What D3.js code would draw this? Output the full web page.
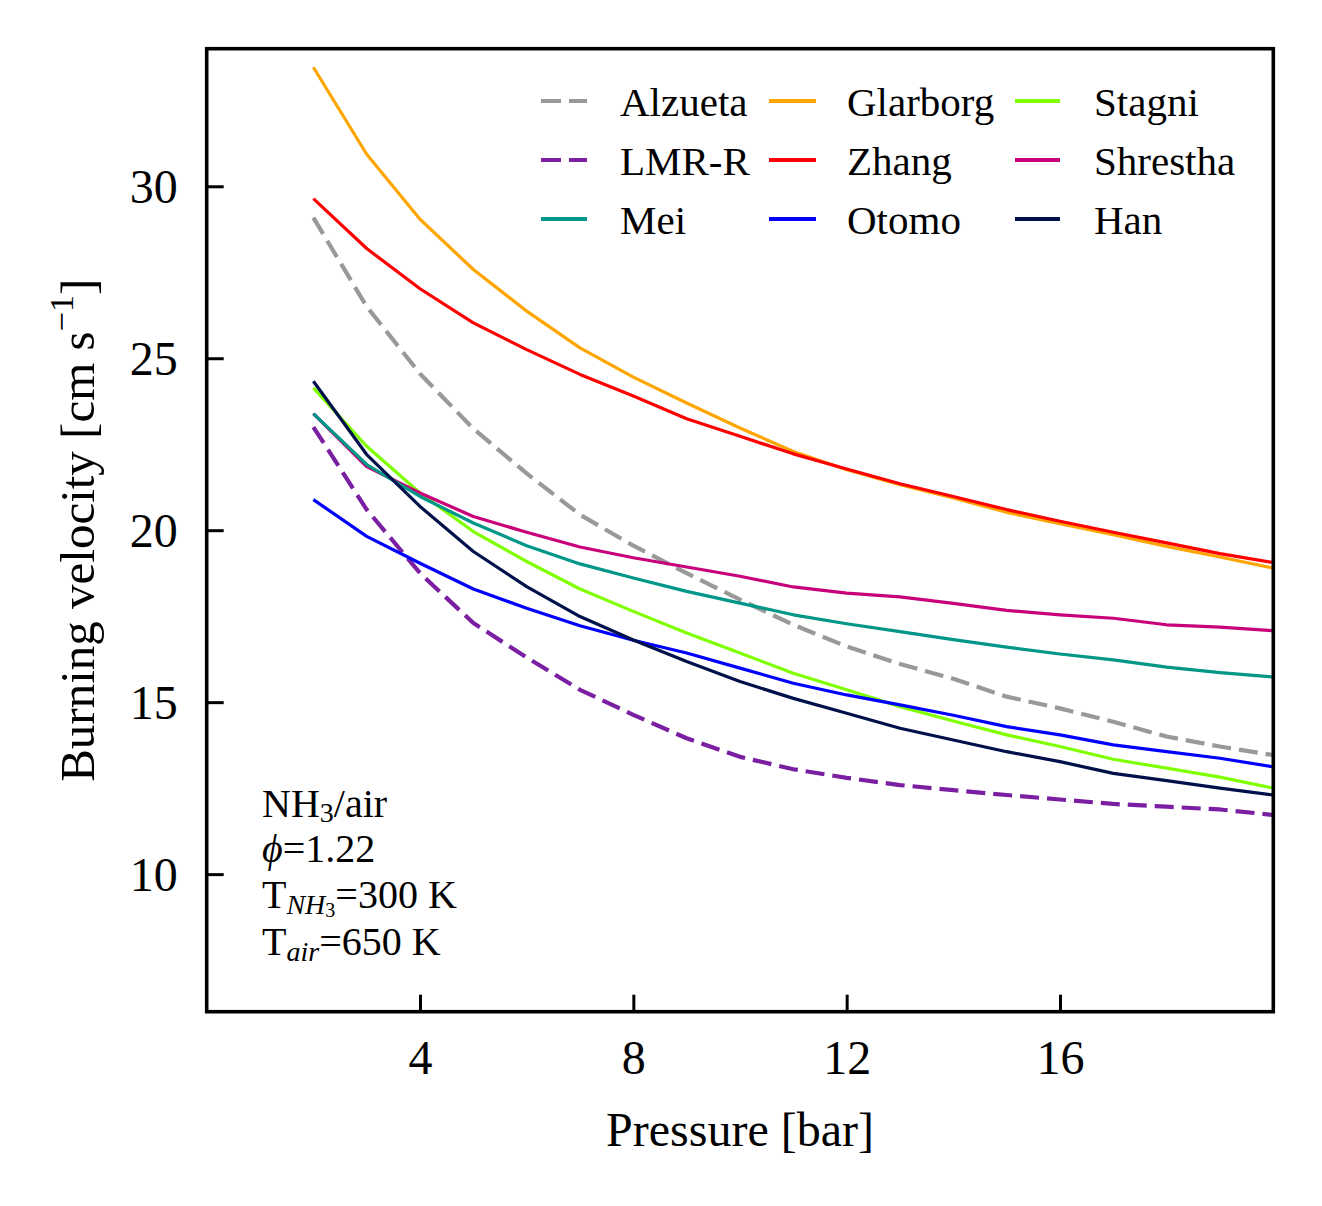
<!DOCTYPE html>
<html>
<head>
<meta charset="utf-8">
<script src="https://cdn.jsdelivr.net/npm/d3@7"></script>
<style>
  html, body { margin: 0; padding: 0; background: #fff; }
  svg { display: block; }
  text { font-family: "Liberation Serif", "Times New Roman", serif; fill: #000; }
</style>
</head>
<body>
<svg id="chart" width="1322" height="1206"></svg>
<script>
// ---------------- data ----------------
const pressure = [2,3,4,5,6,7,8,9,10,11,12,13,14,15,16,17,18,19,20];
const alzueta  = [29.09,26.50,24.55,22.95,21.65,20.45,19.55,18.75,17.98,17.25,16.62,16.11,15.68,15.16,14.82,14.43,14.00,13.71,13.46];
const lmrr     = [23.00,20.60,18.75,17.30,16.30,15.36,14.63,13.95,13.41,13.05,12.80,12.59,12.44,12.30,12.17,12.04,11.96,11.88,11.72];
const mei      = [23.39,21.91,20.98,20.21,19.55,19.02,18.61,18.22,17.88,17.54,17.28,17.05,16.82,16.60,16.40,16.23,16.02,15.86,15.73];
const glarborg = [33.46,30.93,29.04,27.58,26.37,25.30,24.45,23.70,22.97,22.29,21.76,21.32,20.94,20.52,20.19,19.87,19.53,19.22,18.90];
const zhang    = [29.64,28.19,27.02,26.03,25.25,24.53,23.90,23.24,22.73,22.22,21.78,21.35,20.98,20.60,20.26,19.94,19.63,19.32,19.06];
const otomo    = [20.89,19.82,19.04,18.29,17.73,17.22,16.80,16.43,15.99,15.55,15.21,14.92,14.62,14.29,14.05,13.76,13.56,13.37,13.12];
const stagni   = [24.14,22.44,21.08,19.96,19.09,18.29,17.64,17.01,16.43,15.84,15.36,14.87,14.45,14.05,13.71,13.34,13.08,12.82,12.50];
const shrestha = [23.39,21.85,21.08,20.40,19.94,19.51,19.20,18.93,18.66,18.35,18.17,18.06,17.87,17.67,17.54,17.44,17.25,17.18,17.08];
const han      = [24.33,22.20,20.69,19.38,18.36,17.49,16.81,16.18,15.60,15.11,14.68,14.24,13.90,13.56,13.27,12.93,12.72,12.50,12.30];

const legendNames = ["Alzueta","LMR-R","Mei","Glarborg","Zhang","Otomo","Stagni","Shrestha","Han"];
const seriesValues = {
  "Alzueta": alzueta, "LMR-R": lmrr, "Mei": mei, "Glarborg": glarborg, "Zhang": zhang,
  "Otomo": otomo, "Stagni": stagni, "Shrestha": shrestha, "Han": han
};
const xTicks = [4, 8, 12, 16];
const yTicks = [10, 15, 20, 25, 30];
const xLabel = "Pressure [bar]";

// ---------------- styles ----------------
const styles = {
  "Alzueta":  {color: "#999999", dash: "19,8", width: 4.2},
  "LMR-R":    {color: "#7b1fa2", dash: "19,8", width: 4.2},
  "Mei":      {color: "#009688", dash: null, width: 3.2},
  "Glarborg": {color: "#ffa500", dash: null, width: 3.2},
  "Zhang":    {color: "#ff0000", dash: null, width: 3.2},
  "Otomo":    {color: "#0000ff", dash: null, width: 3.2},
  "Stagni":   {color: "#80ff00", dash: null, width: 3.2},
  "Shrestha": {color: "#c8007a", dash: null, width: 3.2},
  "Han":      {color: "#00104a", dash: null, width: 3.2}
};
const drawOrder = ["Alzueta","LMR-R","Glarborg","Zhang","Stagni","Shrestha","Mei","Otomo","Han"];

// ---------------- layout ----------------
const L = 206.7, R = 1273.3, T = 48.7, B = 1011.7;
const svg = d3.select("#chart");
const x = d3.scaleLinear().domain([0, 20]).range([L, R]);
const y = d3.scaleLinear().domain([6, 34]).range([B, T]);

svg.append("defs").append("clipPath").attr("id", "clip")
  .append("rect").attr("x", L).attr("y", T).attr("width", R - L).attr("height", B - T);

const line = d3.line().x((d, i) => x(pressure[i])).y(d => y(d));

const plot = svg.append("g").attr("clip-path", "url(#clip)");
drawOrder.forEach(name => {
  const s = styles[name];
  plot.append("path")
    .datum(seriesValues[name])
    .attr("d", line)
    .attr("fill", "none")
    .attr("stroke", s.color)
    .attr("stroke-width", s.width)
    .attr("stroke-dasharray", s.dash)
    .attr("stroke-linejoin", "round");
});

// axes with inward ticks
const fs = 48;
const xAxis = d3.axisBottom(x).tickValues(xTicks).tickSizeInner(-17).tickSizeOuter(0).tickPadding(45).tickFormat(d3.format("d"));
const gx = svg.append("g").attr("transform", `translate(0,${B})`).call(xAxis);
gx.select(".domain").remove();
gx.selectAll(".tick line").attr("stroke", "#000").attr("stroke-width", 3);
gx.selectAll(".tick text").attr("font-size", fs).attr("font-family", "Liberation Serif, serif").attr("dy", "0.71em").attr("y", 28);

const yAxis = d3.axisLeft(y).tickValues(yTicks).tickSizeInner(-17).tickSizeOuter(0).tickPadding(0).tickFormat(d3.format("d"));
const gy = svg.append("g").attr("transform", `translate(${L},0)`).call(yAxis);
gy.select(".domain").remove();
gy.selectAll(".tick line").attr("stroke", "#000").attr("stroke-width", 3);
gy.selectAll(".tick text").attr("font-size", fs).attr("font-family", "Liberation Serif, serif").attr("x", -29).attr("dy", "0.34em");

// frame
svg.append("rect").attr("x", L).attr("y", T).attr("width", R - L).attr("height", B - T)
  .attr("fill", "none").attr("stroke", "#000").attr("stroke-width", 3.6);

// axis labels
svg.append("text").attr("x", (L + R) / 2).attr("y", 1146).attr("text-anchor", "middle")
  .attr("font-size", fs).text(xLabel);

const yl = svg.append("text").attr("transform", `translate(94,${(T + B) / 2}) rotate(-90)`)
  .attr("text-anchor", "middle").attr("font-size", 49);
yl.append("tspan").text("Burning velocity [cm s");
yl.append("tspan").attr("font-size", 49 * 0.7).attr("dy", -21).text("\u22121");
yl.append("tspan").attr("dy", 21).text("]");

// legend
const colX = [[541, 587, 620], [769, 816, 847], [1015, 1060, 1094]];
const rowY = [101, 160, 219];
const lfs = 41;
legendNames.forEach((name, i) => {
  const c = Math.floor(i / 3), r = i % 3;
  const s = styles[name];
  const g = svg.append("g");
  g.append("line").attr("x1", colX[c][0]).attr("x2", colX[c][1])
    .attr("y1", rowY[r]).attr("y2", rowY[r])
    .attr("stroke", s.color).attr("stroke-width", 4.2)
    .attr("stroke-dasharray", s.dash ? "20,8" : null);
  g.append("text").attr("x", colX[c][2]).attr("y", rowY[r] + 15)
    .attr("font-size", lfs).text(name);
});

// annotation
const afs = 40, ax = 262;
const a1 = svg.append("text").attr("x", ax).attr("y", 817).attr("font-size", afs);
a1.append("tspan").text("NH");
a1.append("tspan").attr("font-size", afs * 0.7).attr("dy", 5).text("3");
a1.append("tspan").attr("dy", -5).text("/air");

const a2 = svg.append("text").attr("x", ax).attr("y", 862).attr("font-size", afs);
a2.append("tspan").attr("font-style", "italic").text("\u03d5");
a2.append("tspan").text("=1.22");

const a3 = svg.append("text").attr("x", ax).attr("y", 908).attr("font-size", afs);
a3.append("tspan").text("T");
a3.append("tspan").attr("font-size", afs * 0.7).attr("font-style", "italic").attr("dy", 6).text("NH");
a3.append("tspan").attr("font-size", afs * 0.5).attr("dy", 3).text("3");
a3.append("tspan").attr("dy", -9).text("=300 K");

const a4 = svg.append("text").attr("x", ax).attr("y", 955).attr("font-size", afs);
a4.append("tspan").text("T");
a4.append("tspan").attr("font-size", afs * 0.7).attr("font-style", "italic").attr("dy", 6).text("air");
a4.append("tspan").attr("dy", -6).text("=650 K");
</script>
</body>
</html>
